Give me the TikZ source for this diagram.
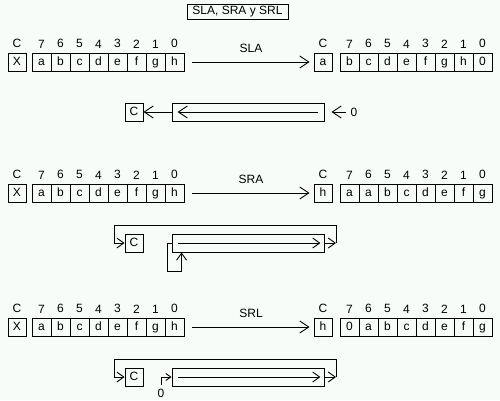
\documentclass[tikz,border=0pt]{standalone}
\usepackage{fontspec}
\setmainfont{Liberation Sans}
\usetikzlibrary{positioning,arrows.meta}
\definecolor{paper}{RGB}{247,252,248}

\begin{document}
\begin{tikzpicture}[x=1pt,y=-1pt,line width=0.9pt,font=\fontsize{12}{14}\selectfont,
    bit/.style={draw,minimum width=19pt,minimum height=18pt,inner sep=0pt,text height=8.5pt,text depth=2.5pt},
    carry/.style={draw,minimum width=18pt,minimum height=18pt,inner sep=0pt,text height=8.5pt,text depth=2.5pt},
    idx/.style={inner sep=0pt},
    arr/.style={-{Straight Barb[length=9pt,width=12pt]}},
    link/.style={-{Straight Barb[length=7pt,width=10pt]}}]
      \fill[paper] (0,0) rectangle (500,400);
      \useasboundingbox (0,0) rectangle (500,400);
      \node[draw,minimum width=101pt,minimum height=15pt,inner sep=0pt] (title) at (237.5,11.5) {SLA, SRA y SRL};
      \foreach \row/\op/\y/\out/\res in {sla/SLA/62/a/{b,c,d,e,f,g,h,0},
          sra/SRA/193/h/{a,a,b,c,d,e,f,g},srl/SRL/327/h/{0,a,b,c,d,e,f,g}} {
        \node[carry] (\row-cin) at (17,\y) {X};
        \node[idx,above=4pt of \row-cin] (\row-lin) {C};
        \node[carry] (\row-cout) at (323,\y) {\out};
        \node[idx,above=4pt of \row-cout] (\row-lout) {C};
        \foreach \v [count=\i] in {a,b,c,d,e,f,g,h} {
          \pgfmathparse{int(8-\i)}
          \let\bit\pgfmathresult
          \node[bit] (\row-a\i) at (22.5+19*\i,\y) {\v};
          \node[idx,above=4pt of \row-a\i] (\row-na\i) {\bit};
        }
        \foreach \v [count=\i] in \res {
          \pgfmathparse{int(8-\i)}
          \let\bit\pgfmathresult
          \node[bit] (\row-b\i) at (330.5+19*\i,\y) {\v};
          \node[idx,above=4pt of \row-b\i] (\row-nb\i) {\bit};
        }
        \draw[arr] ([xshift=8pt]\row-a8.east) -- node[idx,above=9pt] (\row-op) {\op} ([xshift=-4pt]\row-cout.west);
      }

      \foreach \row/\y in {sla/112,sra/243,srl/377} {
        \node[carry] (\row-k) at (134,\y) {C};
        \node[draw,minimum width=152pt,minimum height=18pt,inner sep=0pt] (\row-r) at (248,\y) {};
      }
      \draw[arr] (sla-r.west) -- (sla-k.east);
      \draw[arr] ([xshift=-6pt]sla-r.east) -- ([xshift=6pt]sla-r.west);
      \node[idx] (sla-zero) at (354,112) {0};
      \draw[arr] ([xshift=-4pt]sla-zero.west) -- ([xshift=7pt]sla-r.east);

      \draw[link] ([xshift=6pt]sra-r.west) -- ([xshift=-4pt]sra-r.east);
      \coordinate (sra-o) at (336,243);
      \coordinate (sra-t) at (114,225);
      \coordinate (sra-f) at (167,271);
      \draw[link] (sra-r.east) -- (sra-o);
      \draw[link] (sra-o) |- (sra-t) |- (sra-k.west);
      \draw[link] (sra-r.west) -| (sra-f) -| ([xshift=10pt]sra-r.south west);

      \draw[link] ([xshift=6pt]srl-r.west) -- ([xshift=-4pt]srl-r.east);
      \coordinate (srl-o) at (336,377);
      \coordinate (srl-t) at (114,359);
      \draw[link] (srl-r.east) -- (srl-o);
      \draw[link] (srl-o) |- (srl-t) |- (srl-k.west);
      \node[idx] (srl-zero) at (161,393) {0};
      \coordinate (srl-in) at (161,385);
      \draw[-{Straight Barb[length=5pt,width=7pt]}] (srl-in) |- (srl-r.west);
\end{tikzpicture}
\end{document}
